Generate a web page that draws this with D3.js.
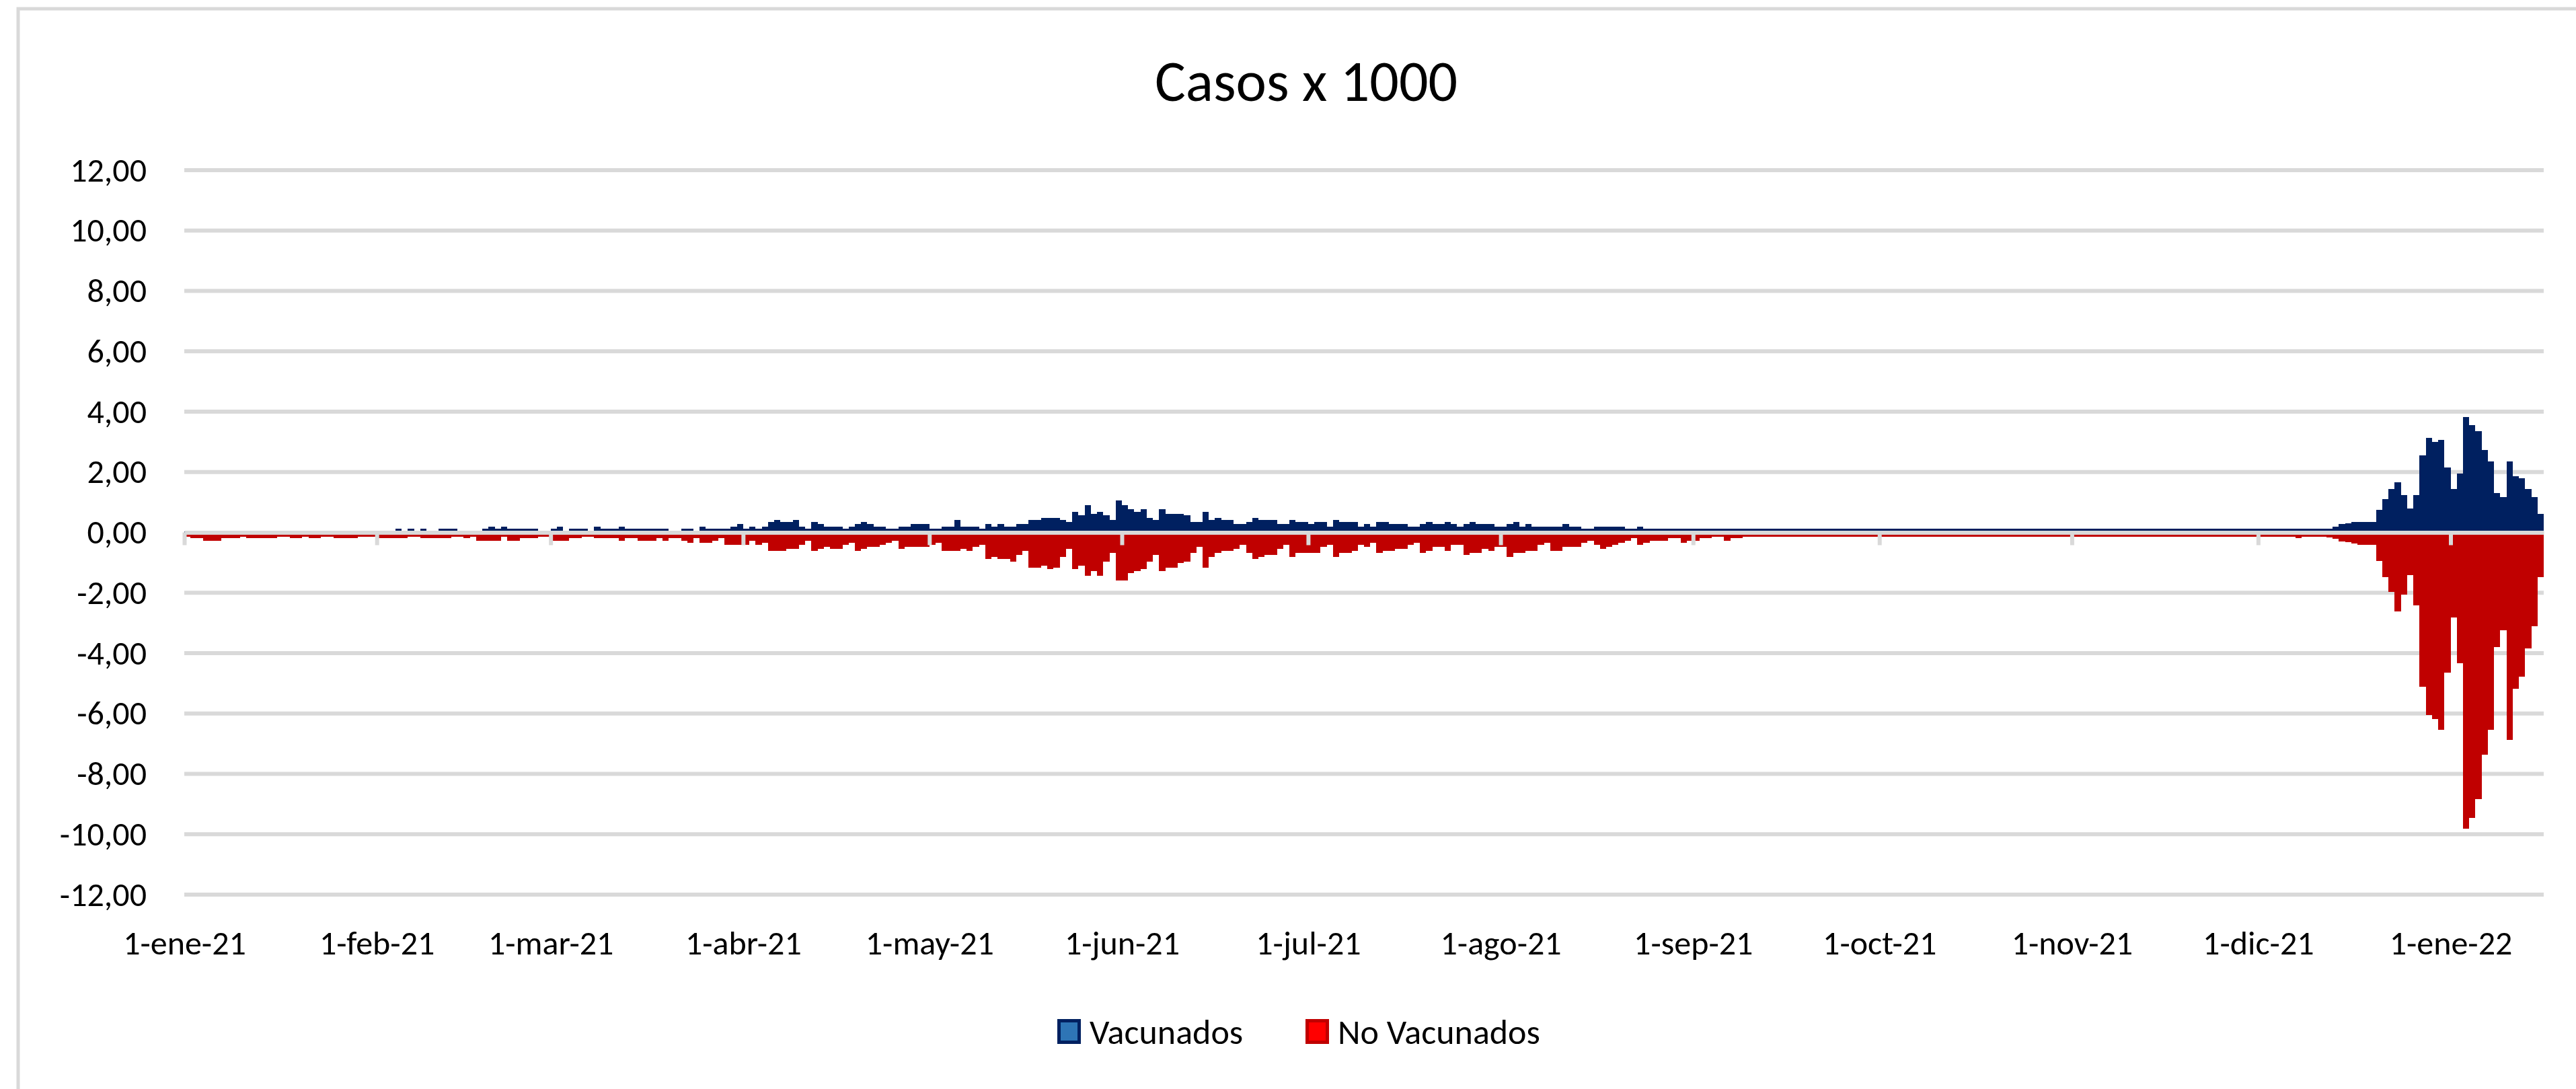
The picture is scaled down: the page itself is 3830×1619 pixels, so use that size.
<!DOCTYPE html>
<html>
<head>
<meta charset="utf-8">
<script src="https://cdn.jsdelivr.net/npm/d3@7"></script>
<style>
  html, body { margin: 0; padding: 0; background: #fff; }
  svg { display: block; }
  text { font-family: Carlito, Calibri, Lato, "Open Sans", sans-serif; fill: #000; }
</style>
</head>
<body>
<div id="chart"></div>
<script>
(function(){
  // 1. Sizes
  const width = 3830;
  const height = 1619;

  // 2. Data (casos x 1000 por dia, 1-ene-21 .. 15-ene-22)
  const title = "Casos x 1000";
  const seriesNames = ["Vacunados", "No Vacunados"];
  const tickLabels = ["1-ene-21", "1-feb-21", "1-mar-21", "1-abr-21", "1-may-21", "1-jun-21",
                      "1-jul-21", "1-ago-21", "1-sep-21", "1-oct-21", "1-nov-21", "1-dic-21", "1-ene-22"];
  const yTicks = [-12, -10, -8, -6, -4, -2, 0, 2, 4, 6, 8, 10, 12];

  const vacunados = [
    // ene-21
    0.03,0.03,0.03,0.03,0.03,0.03,0.03,0.03,0.03,0.03,
    0.03,0.03,0.03,0.03,0.03,0.03,0.03,0.03,0.03,0.03,
    0.03,0.03,0.03,0.03,0.03,0.03,0.03,0.03,0.03,0.03,0.03,
    // feb-21
    0.03,0.03,0.05,0.12,0.05,0.12,0.05,0.12,0.05,0.05,
    0.12,0.12,0.12,0.05,0.05,0.05,0.05,0.12,0.19,0.12,
    0.19,0.12,0.12,0.12,0.12,0.12,0.05,0.05,
    // mar-21
    0.12,0.19,0.05,0.12,0.12,0.12,0.05,0.19,0.12,0.12,
    0.12,0.19,0.12,0.12,0.12,0.12,0.12,0.12,0.12,0.05,
    0.05,0.12,0.12,0.05,0.19,0.12,0.12,0.12,0.12,0.19,0.28,
    // abr-21
    0.12,0.19,0.12,0.19,0.35,0.42,0.35,0.35,0.42,0.19,
    0.12,0.35,0.28,0.19,0.19,0.19,0.12,0.19,0.28,0.35,
    0.28,0.19,0.19,0.12,0.12,0.19,0.19,0.28,0.28,0.28,
    // may-21
    0.12,0.12,0.19,0.19,0.42,0.19,0.19,0.19,0.12,0.28,
    0.19,0.28,0.19,0.19,0.28,0.28,0.42,0.42,0.49,0.49,
    0.49,0.42,0.35,0.69,0.56,0.91,0.62,0.69,0.56,0.42,1.05,
    // jun-21
    0.91,0.76,0.69,0.76,0.49,0.42,0.76,0.62,0.62,0.62,
    0.56,0.35,0.35,0.69,0.42,0.49,0.42,0.42,0.28,0.28,
    0.35,0.49,0.42,0.42,0.42,0.28,0.28,0.42,0.35,0.35,
    // jul-21
    0.28,0.35,0.35,0.19,0.42,0.35,0.35,0.35,0.19,0.28,
    0.19,0.35,0.35,0.28,0.28,0.28,0.19,0.19,0.28,0.35,
    0.28,0.28,0.35,0.28,0.19,0.28,0.35,0.28,0.28,0.28,0.19,
    // ago-21
    0.19,0.28,0.35,0.19,0.28,0.19,0.19,0.19,0.19,0.19,
    0.28,0.19,0.19,0.12,0.12,0.19,0.19,0.19,0.19,0.19,
    0.12,0.12,0.19,0.12,0.12,0.12,0.12,0.12,0.12,0.12,0.12,
    // sep-21
    0.12,0.12,0.12,0.12,0.12,0.12,0.12,0.12,0.12,0.12,
    0.12,0.12,0.12,0.12,0.12,0.12,0.12,0.12,0.12,0.12,
    0.12,0.12,0.12,0.12,0.12,0.12,0.12,0.12,0.12,0.12,
    // oct-21
    0.12,0.12,0.12,0.12,0.12,0.12,0.12,0.12,0.12,0.12,
    0.12,0.12,0.12,0.12,0.12,0.12,0.12,0.12,0.12,0.12,
    0.12,0.12,0.12,0.12,0.12,0.12,0.12,0.12,0.12,0.12,0.12,
    // nov-21
    0.12,0.12,0.12,0.12,0.12,0.12,0.12,0.12,0.12,0.12,
    0.12,0.12,0.12,0.12,0.12,0.12,0.12,0.12,0.12,0.12,
    0.12,0.12,0.12,0.12,0.12,0.12,0.12,0.12,0.12,0.12,
    // dic-21
    0.12,0.12,0.12,0.12,0.12,0.12,0.12,0.12,0.12,0.12,
    0.12,0.12,0.18,0.27,0.29,0.35,0.35,0.35,0.35,0.75,
    1.11,1.44,1.67,1.24,0.80,1.24,2.56,3.12,2.99,3.06,2.16,
    // ene-22
    1.44,1.94,3.82,3.56,3.35,2.73,2.36,1.30,1.17,2.36,
    1.87,1.80,1.44,1.18,0.62
  ];

  const noVacunados = [
    // ene-21
    -0.14,-0.2,-0.2,-0.27,-0.27,-0.27,-0.2,-0.2,-0.2,-0.14,
    -0.2,-0.2,-0.2,-0.2,-0.2,-0.14,-0.14,-0.2,-0.2,-0.14,
    -0.2,-0.2,-0.14,-0.14,-0.2,-0.2,-0.2,-0.2,-0.14,-0.14,-0.14,
    // feb-21
    -0.2,-0.2,-0.2,-0.2,-0.2,-0.14,-0.14,-0.2,-0.2,-0.2,
    -0.2,-0.2,-0.14,-0.14,-0.2,-0.14,-0.27,-0.27,-0.27,-0.27,
    -0.14,-0.27,-0.27,-0.2,-0.2,-0.2,-0.14,-0.14,
    // mar-21
    -0.27,-0.27,-0.27,-0.2,-0.2,-0.14,-0.14,-0.2,-0.2,-0.2,
    -0.2,-0.27,-0.2,-0.2,-0.27,-0.27,-0.27,-0.2,-0.27,-0.2,
    -0.2,-0.27,-0.35,-0.2,-0.35,-0.35,-0.27,-0.2,-0.42,-0.42,-0.42,
    // abr-21
    -0.42,-0.27,-0.42,-0.35,-0.61,-0.61,-0.61,-0.55,-0.55,-0.42,
    -0.27,-0.61,-0.55,-0.48,-0.55,-0.55,-0.42,-0.35,-0.61,-0.55,
    -0.48,-0.48,-0.42,-0.35,-0.27,-0.55,-0.48,-0.48,-0.48,-0.48,
    // may-21
    -0.42,-0.35,-0.61,-0.61,-0.61,-0.55,-0.61,-0.48,-0.42,-0.88,
    -0.81,-0.88,-0.88,-0.96,-0.74,-0.61,-1.16,-1.16,-1.1,-1.22,
    -1.16,-0.81,-0.55,-1.22,-1.1,-1.43,-1.29,-1.43,-0.96,-0.68,-1.59,
    // jun-21
    -1.59,-1.35,-1.29,-1.22,-0.96,-0.74,-1.29,-1.16,-1.16,-1.01,
    -0.96,-0.68,-0.48,-1.16,-0.81,-0.68,-0.61,-0.61,-0.55,-0.42,
    -0.68,-0.88,-0.81,-0.74,-0.74,-0.55,-0.42,-0.81,-0.68,-0.68,
    // jul-21
    -0.68,-0.68,-0.48,-0.42,-0.81,-0.68,-0.68,-0.61,-0.42,-0.48,
    -0.35,-0.68,-0.61,-0.61,-0.55,-0.55,-0.42,-0.35,-0.68,-0.61,
    -0.48,-0.48,-0.61,-0.42,-0.42,-0.74,-0.68,-0.68,-0.55,-0.61,-0.48,
    // ago-21
    -0.48,-0.81,-0.68,-0.68,-0.61,-0.61,-0.42,-0.35,-0.61,-0.61,
    -0.48,-0.48,-0.48,-0.35,-0.27,-0.42,-0.55,-0.48,-0.42,-0.35,
    -0.27,-0.2,-0.42,-0.35,-0.27,-0.27,-0.27,-0.2,-0.2,-0.35,-0.27,
    // sep-21
    -0.27,-0.2,-0.2,-0.14,-0.14,-0.27,-0.2,-0.2,-0.14,-0.14,
    -0.14,-0.14,-0.14,-0.14,-0.14,-0.14,-0.14,-0.14,-0.14,-0.14,
    -0.14,-0.14,-0.14,-0.14,-0.14,-0.14,-0.14,-0.14,-0.14,-0.14,
    // oct-21
    -0.14,-0.14,-0.14,-0.14,-0.14,-0.14,-0.14,-0.14,-0.14,-0.14,
    -0.14,-0.14,-0.14,-0.14,-0.14,-0.14,-0.14,-0.14,-0.14,-0.14,
    -0.14,-0.14,-0.14,-0.14,-0.14,-0.14,-0.14,-0.14,-0.14,-0.14,-0.14,
    // nov-21
    -0.14,-0.14,-0.14,-0.14,-0.14,-0.14,-0.14,-0.14,-0.14,-0.14,
    -0.14,-0.14,-0.14,-0.14,-0.14,-0.14,-0.14,-0.14,-0.14,-0.14,
    -0.14,-0.14,-0.14,-0.14,-0.14,-0.14,-0.14,-0.14,-0.14,-0.14,
    // dic-21
    -0.14,-0.14,-0.14,-0.14,-0.14,-0.14,-0.2,-0.14,-0.14,-0.14,
    -0.14,-0.17,-0.22,-0.3,-0.33,-0.37,-0.41,-0.41,-0.41,-0.94,
    -1.48,-1.98,-2.61,-2.06,-1.42,-2.41,-5.11,-6.04,-6.18,-6.54,-4.64,
    // ene-22
    -2.83,-4.34,-9.81,-9.46,-8.84,-7.36,-6.53,-3.79,-3.24,-6.87,
    -5.19,-4.78,-3.85,-3.11,-1.48
  ];

  // one category per day
  const firstDay = new Date(Date.UTC(2021, 0, 1));
  const endDay = new Date(Date.UTC(2022, 0, 16));
  const days = d3.utcDay.range(firstDay, endDay);
  const monthStarts = d3.utcMonth.range(firstDay, new Date(Date.UTC(2022, 0, 2)));

  const rows = days.map((d, i) => ({ date: d, vac: vacunados[i] || 0, noVac: noVacunados[i] || 0 }));

  // 3. Scales
  const plot = { left: 274, right: 3782, top: 253, bottom: 1330 };
  const x = d3.scaleUtc().domain([firstDay, endDay]).range([plot.left, plot.right]);
  const y = d3.scaleLinear().domain([-12, 12]).range([plot.bottom, plot.top]);

  const es = d3.formatLocale({ decimal: ",", thousands: ".", grouping: [3], currency: ["", " €"], minus: "-" });
  const fmt = es.format(".2f");

  const colors = { vac: "#002060", noVac: "#c00000", grid: "#d9d9d9" };

  // 4. SVG
  const svg = d3.select("#chart").append("svg")
      .attr("width", width)
      .attr("height", height)
      .attr("viewBox", `0 0 ${width} ${height}`);

  svg.append("rect").attr("width", width).attr("height", height).attr("fill", "#fff");

  // chart area border (only top and left edges fall inside the picture)
  svg.append("rect")
      .attr("x", 27).attr("y", 13)
      .attr("width", width + 40).attr("height", height + 40)
      .attr("fill", "none")
      .attr("stroke", colors.grid)
      .attr("stroke-width", 5);

  // title
  svg.append("text")
      .attr("x", 1942).attr("y", 150)
      .attr("text-anchor", "middle")
      .style("font-size", "86px")
      .text(title);

  // 5. Gridlines
  svg.append("g")
      .selectAll("line")
      .data(yTicks.filter(v => v !== 0))
      .join("line")
      .attr("x1", plot.left).attr("x2", plot.right)
      .attr("y1", d => y(d)).attr("y2", d => y(d))
      .attr("stroke", colors.grid)
      .attr("stroke-width", 6);

  // y labels
  const yAxis = svg.append("g")
      .attr("transform", `translate(${226},0)`)
      .call(d3.axisLeft(y).tickValues(yTicks).tickSize(0).tickPadding(8).tickFormat(fmt));
  yAxis.select(".domain").remove();
  yAxis.selectAll("text").style("font-size", "50px").attr("font-family", null).attr("fill", "#000");

  // 6. Bars
  const barW = d => x(d3.utcDay.offset(d.date, 1)) - x(d.date);

  svg.append("g")
      .attr("shape-rendering", "crispEdges")
      .selectAll("rect")
      .data(rows)
      .join("rect")
      .attr("x", d => x(d.date))
      .attr("width", d => barW(d))
      .attr("y", d => y(Math.max(0, d.vac)))
      .attr("height", d => Math.abs(y(d.vac) - y(0)))
      .attr("fill", colors.vac);

  svg.append("g")
      .attr("shape-rendering", "crispEdges")
      .selectAll("rect")
      .data(rows)
      .join("rect")
      .attr("x", d => x(d.date))
      .attr("width", d => barW(d))
      .attr("y", d => y(Math.max(0, d.noVac)))
      .attr("height", d => Math.abs(y(d.noVac) - y(0)))
      .attr("fill", colors.noVac);

  // 7. Zero axis with month ticks (drawn over the bars)
  const zeroAxis = svg.append("g")
      .attr("transform", `translate(0,${y(0)})`)
      .call(d3.axisBottom(x).tickValues(monthStarts).tickSize(19).tickSizeOuter(0).tickFormat(""));
  zeroAxis.select(".domain").attr("stroke", colors.grid).attr("stroke-width", 6);
  zeroAxis.selectAll(".tick line").attr("stroke", colors.grid).attr("stroke-width", 6);

  // month labels at the bottom
  const xLabels = svg.append("g")
      .attr("transform", `translate(0,${1380})`)
      .call(d3.axisBottom(x).tickValues(monthStarts).tickSize(0).tickPadding(3)
        .tickFormat((d, i) => tickLabels[i]));
  xLabels.select(".domain").remove();
  xLabels.selectAll("text").style("font-size", "50px").attr("font-family", null).attr("fill", "#000");

  // 8. Legend
  const legendItems = [
    { name: seriesNames[0], x: 1572, fill: "#2e75b6", stroke: "#002060" },
    { name: seriesNames[1], x: 1941, fill: "#ff0000", stroke: "#c00000" }
  ];
  const legend = svg.append("g").selectAll("g")
      .data(legendItems)
      .join("g")
      .attr("transform", d => `translate(${d.x},1515)`);
  legend.append("rect")
      .attr("x", 2.5).attr("y", 2.5)
      .attr("width", 30).attr("height", 32)
      .attr("fill", d => d.fill)
      .attr("stroke", d => d.stroke)
      .attr("stroke-width", 5);
  legend.append("text")
      .attr("x", 48).attr("y", 37)
      .style("font-size", "52px")
      .text(d => d.name);
})();
</script>
</body>
</html>
